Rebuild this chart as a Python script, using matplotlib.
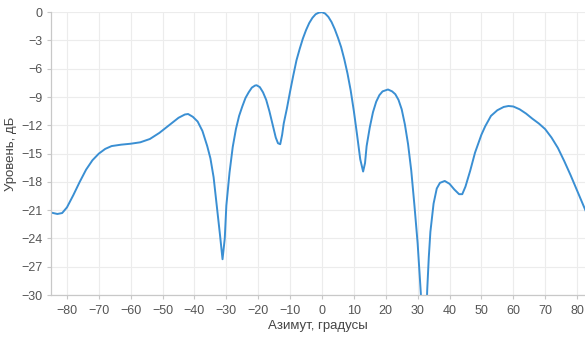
import matplotlib
matplotlib.use("Agg")
import matplotlib.pyplot as plt

# azimuth (deg) and level (dB)
azimuth = [-85, -83, -81.5, -80, -78, -76, -74, -72, -70, -68, -66, -63, -60, -57,
           -54, -51, -48, -45, -43, -42, -40.5, -39, -37.5, -36, -35, -34, -33, -32,
           -31.2, -30.5, -30, -29, -28, -27, -26, -25, -24, -23, -22, -21, -20.5,
           -19.5, -18.5, -17.5, -16.5, -15.5, -14.5, -13.8, -13.1, -12.5, -12, -11,
           -10, -9, -8, -7, -6, -5, -4, -3, -2, -1, 0, 1, 2, 3, 4, 5, 6, 7, 8, 9, 10,
           11, 12, 12.9, 13.5, 14, 15, 16, 17, 18, 19, 20.7, 22, 23, 24, 25, 26, 27,
           28, 29, 30, 31, 32, 33, 33.5, 34, 35, 36, 37, 38.5, 40, 41.5, 43, 44, 45,
           46.5, 48, 50, 51.2, 53, 55, 57, 58.5, 60, 62, 64, 66, 68, 70, 72, 74, 76,
           78, 80, 82, 83]
level = [-21.25, -21.4, -21.3, -20.7, -19.4, -18.0, -16.7, -15.7, -15.0, -14.5, -14.2,
         -14.05, -13.95, -13.8, -13.45, -12.8, -12.0, -11.2, -10.85, -10.8, -11.1,
         -11.6, -12.6, -14.2, -15.5, -17.5, -20.5, -23.6, -26.2, -24.0, -20.5, -17.0,
         -14.3, -12.4, -11.0, -10.0, -9.1, -8.5, -8.0, -7.78, -7.75, -7.95, -8.5,
         -9.3, -10.5, -11.9, -13.3, -13.9, -14.0, -13.0, -11.8, -10.2, -8.4, -6.7,
         -5.1, -3.9, -2.8, -1.9, -1.15, -0.6, -0.22, -0.05, 0.0, -0.15, -0.5, -1.05,
         -1.8, -2.7, -3.7, -5.0, -6.5, -8.3, -10.5, -13.0, -15.6, -16.9, -16.0, -14.2,
         -12.2, -10.6, -9.5, -8.8, -8.4, -8.2, -8.4, -8.7, -9.3, -10.3, -11.9, -14.0,
         -16.8, -20.5, -24.5, -29.8, -40.0, -29.5, -26.0, -23.3, -20.3, -18.7, -18.1,
         -17.9, -18.2, -18.8, -19.3, -19.3, -18.5, -16.8, -14.9, -13.0, -12.1, -11.0,
         -10.4, -10.05, -9.95, -10.0, -10.3, -10.75, -11.3, -11.8, -12.4, -13.3,
         -14.4, -15.8, -17.3, -18.9, -20.5, -21.3]

xticks = list(range(-80, 81, 10))
yticks = list(range(-30, 1, 3))

plt.rcParams['font.family'] = ['Liberation Sans', 'DejaVu Sans']

fig = plt.figure(figsize=(5.85, 3.38), dpi=100)
ax = fig.add_axes([0.0872, 0.127, 0.9128, 0.837])

ax.plot(azimuth, level, color='#3a8fd3', linewidth=1.4, clip_on=True)

ax.set_xlim(-85, 82.5)
ax.set_ylim(-30, 0)
ax.set_xticks(xticks)
ax.set_yticks(yticks)
ax.grid(True, color='#ececec', linewidth=0.8)
ax.set_axisbelow(True)

for s in ['top', 'right']:
    ax.spines[s].set_visible(False)
for s in ['left', 'bottom']:
    ax.spines[s].set_color('#c8c8c8')
    ax.spines[s].set_linewidth(0.9)

ax.tick_params(axis='both', colors='#c8c8c8', labelcolor='#555555', labelsize=9,
               length=3, width=0.8)
ax.tick_params(axis='x', pad=4)
ax.tick_params(axis='y', pad=3)

ax.set_xlabel('Азимут, градусы', fontsize=9.5, color='#444444', labelpad=2)
ax.set_ylabel('Уровень, дБ', fontsize=9.5, color='#444444', labelpad=3)

fig.savefig('out.png', dpi=100)
